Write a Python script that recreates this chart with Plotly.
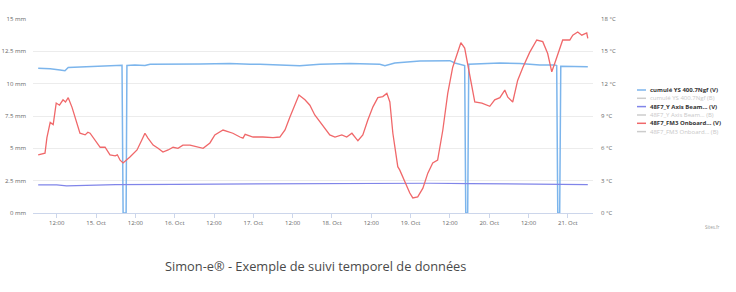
import plotly.graph_objects as go

# ---------------- data ----------------
blue_times = ["2023-10-14 06:20", "2023-10-14 10:00", "2023-10-14 13:00", "2023-10-14 14:30", "2023-10-14 15:30",
              "2023-10-14 19:05", "2023-10-15 01:15", "2023-10-15 07:20", "2023-10-15 07:55", "2023-10-15 08:15",
              "2023-10-15 09:10", "2023-10-15 09:25", "2023-10-15 11:50", "2023-10-15 14:55", "2023-10-15 16:30",
              "2023-10-16 07:45", "2023-10-16 16:50", "2023-10-16 23:00", "2023-10-17 02:00", "2023-10-17 14:10",
              "2023-10-17 20:20", "2023-10-18 05:30", "2023-10-18 14:35", "2023-10-18 16:10", "2023-10-18 19:10",
              "2023-10-19 02:50", "2023-10-19 08:55", "2023-10-19 12:00", "2023-10-19 13:30", "2023-10-19 15:55",
              "2023-10-19 16:30", "2023-10-19 16:50", "2023-10-19 17:25", "2023-10-19 17:45", "2023-10-19 21:05",
              "2023-10-20 03:15", "2023-10-20 09:20", "2023-10-20 15:25", "2023-10-20 20:00", "2023-10-20 20:35",
              "2023-10-20 20:55", "2023-10-20 21:30", "2023-10-20 21:50", "2023-10-21 02:05", "2023-10-21 06:05"]
blue_vals = [11.2, 11.15, 11.05, 11.0, 11.25,
             11.28, 11.33, 11.38, 11.42, 0.0,
             0.0, 11.4, 11.45, 11.4, 11.5,
             11.52, 11.55, 11.5, 11.5, 11.38,
             11.5, 11.55, 11.5, 11.38, 11.6,
             11.75, 11.8, 11.78, 11.6, 11.4,
             11.4, 0.0, 0.0, 11.5, 11.55,
             11.6, 11.55, 11.45, 11.45, 11.4,
             0.0, 0.0, 11.35, 11.3, 11.3]

purple_times = ["2023-10-14 06:20", "2023-10-14 12:00", "2023-10-14 15:00", "2023-10-14 20:00", "2023-10-15 06:00",
                "2023-10-16 00:00", "2023-10-17 00:00", "2023-10-18 12:00", "2023-10-19 06:00", "2023-10-19 18:00",
                "2023-10-20 12:00", "2023-10-21 06:05"]
purple_vals = [2.18, 2.17, 2.1, 2.15, 2.2,
               2.22, 2.26, 2.3, 2.3, 2.27,
               2.25, 2.2]

red_times = ["2023-10-14 06:20", "2023-10-14 08:25", "2023-10-14 09:00", "2023-10-14 10:00", "2023-10-14 10:55",
             "2023-10-14 11:50", "2023-10-14 12:50", "2023-10-14 13:55", "2023-10-14 14:40", "2023-10-14 15:30",
             "2023-10-14 16:40", "2023-10-14 18:10", "2023-10-14 19:05", "2023-10-14 20:40", "2023-10-14 21:30",
             "2023-10-14 22:10", "2023-10-14 23:40", "2023-10-15 01:15", "2023-10-15 02:45", "2023-10-15 03:30",
             "2023-10-15 04:15", "2023-10-15 05:50", "2023-10-15 06:30", "2023-10-15 07:20", "2023-10-15 08:15",
             "2023-10-15 10:20", "2023-10-15 12:30", "2023-10-15 14:00", "2023-10-15 14:55", "2023-10-15 15:50",
             "2023-10-15 17:25", "2023-10-15 18:55", "2023-10-15 20:25", "2023-10-15 22:00", "2023-10-15 23:30",
             "2023-10-16 01:00", "2023-10-16 02:30", "2023-10-16 04:40", "2023-10-16 06:50", "2023-10-16 08:40",
             "2023-10-16 10:45", "2023-10-16 12:15", "2023-10-16 14:45", "2023-10-16 17:45", "2023-10-16 19:55",
             "2023-10-16 20:50", "2023-10-16 21:30", "2023-10-16 23:55", "2023-10-17 02:55", "2023-10-17 06:00",
             "2023-10-17 08:05", "2023-10-17 09:40", "2023-10-17 11:10", "2023-10-17 12:40", "2023-10-17 13:55",
             "2023-10-17 15:45", "2023-10-17 17:15", "2023-10-17 18:45", "2023-10-17 20:20", "2023-10-17 21:50",
             "2023-10-17 23:20", "2023-10-18 00:55", "2023-10-18 03:00", "2023-10-18 04:30", "2023-10-18 06:05",
             "2023-10-18 07:55", "2023-10-18 09:25", "2023-10-18 10:55", "2023-10-18 12:30", "2023-10-18 14:00",
             "2023-10-18 15:30", "2023-10-18 16:45", "2023-10-18 17:40", "2023-10-18 18:35", "2023-10-18 20:05",
             "2023-10-18 20:40", "2023-10-18 22:15", "2023-10-18 23:45", "2023-10-19 00:40", "2023-10-19 02:10",
             "2023-10-19 03:45", "2023-10-19 05:15", "2023-10-19 06:45", "2023-10-19 08:15", "2023-10-19 09:50",
             "2023-10-19 11:20", "2023-10-19 12:50", "2023-10-19 14:25", "2023-10-19 15:20", "2023-10-19 16:30",
             "2023-10-19 17:25", "2023-10-19 18:40", "2023-10-19 19:35", "2023-10-19 21:45", "2023-10-20 00:10",
             "2023-10-20 01:40", "2023-10-20 03:15", "2023-10-20 04:45", "2023-10-20 05:40", "2023-10-20 07:10",
             "2023-10-20 08:40", "2023-10-20 10:15", "2023-10-20 12:20", "2023-10-20 14:30", "2023-10-20 16:20",
             "2023-10-20 17:50", "2023-10-20 19:05", "2023-10-20 20:00", "2023-10-20 20:55", "2023-10-20 22:25",
             "2023-10-21 00:35", "2023-10-21 01:30", "2023-10-21 03:00", "2023-10-21 04:15", "2023-10-21 05:45",
             "2023-10-21 06:05"]
red_vals = [5.4, 5.55, 7.0, 8.4, 8.2,
            10.2, 10.0, 10.5, 10.3, 10.7,
            9.8, 8.35, 7.4, 7.25, 7.5,
            7.4, 6.8, 6.1, 6.1, 5.8,
            5.4, 5.3, 5.4, 4.9, 4.65,
            5.2, 5.85, 6.8, 7.4, 6.95,
            6.3, 6.0, 5.65, 5.85, 6.1,
            6.0, 6.3, 6.3, 6.1, 6.0,
            6.5, 7.25, 7.7, 7.4, 7.05,
            6.95, 7.3, 7.05, 7.05, 7.0,
            7.05, 7.7, 8.9, 10.0, 10.95,
            10.5, 10.0, 9.1, 8.45, 7.9,
            7.25, 7.05, 7.25, 7.05, 7.4,
            6.7, 7.25, 8.6, 9.85, 10.7,
            10.8, 11.1, 10.3, 7.4, 4.3,
            4.0, 2.8, 1.85, 1.4, 1.5,
            2.3, 3.7, 4.65, 4.9, 7.7,
            11.1, 13.5, 15.1, 15.8, 15.3,
            13.9, 11.7, 10.3, 10.2, 9.9,
            10.5, 10.7, 11.4, 10.75, 10.3,
            12.3, 13.5, 14.9, 16.05, 15.9,
            14.8, 13.1, 13.9, 14.8, 16.05,
            16.05, 16.5, 16.8, 16.5, 16.7,
            16.2]

x_tickvals = ["2023-10-14 12:00", "2023-10-15 00:00", "2023-10-15 12:00", "2023-10-16 00:00", "2023-10-16 12:00",
              "2023-10-17 00:00", "2023-10-17 12:00", "2023-10-18 00:00", "2023-10-18 12:00", "2023-10-19 00:00",
              "2023-10-19 12:00", "2023-10-20 00:00", "2023-10-20 12:00", "2023-10-21 00:00"]
x_ticktext = ["12:00", "15. Oct", "12:00", "16. Oct", "12:00", "17. Oct", "12:00", "18. Oct", "12:00", "19. Oct",
              "12:00", "20. Oct", "12:00", "21. Oct"]
mm_ticks = [0, 2.5, 5, 7.5, 10, 12.5, 15]
mm_labels = ["0 mm", "2.5 mm", "5 mm", "7.5 mm", "10 mm", "12.5 mm", "15 mm"]
c_ticks = [0, 3, 6, 9, 12, 15, 18]
c_labels = ["0 °C", "3 °C", "6 °C", "9 °C", "12 °C", "15 °C", "18 °C"]

legend_names = ["cumulé YS 400.7Ngf (V)", "cumulé YS 400.7Ngf (B)", "48F7_Y Axis Beam... (V)",
                "48F7_Y Axis Beam... (B)", "48F7_FM3 Onboard... (V)", "48F7_FM3 Onboard... (B)"]
legend_active = [True, False, True, False, True, False]

caption = "Simon-e® - Exemple de suivi temporel de données"
watermark = "Sites.fr"

# ---------------- styles ----------------
BLUE = "#7cb5ec"
PURPLE = "#8085e9"
RED = "#f0686a"
legend_colors = [BLUE, "#cccccc", PURPLE, "#cccccc", RED, "#cccccc"]

W, H = 736, 292
L, R, T, B = 33, 143, 19, 79
PW, PH = W - L - R, H - T - B


def px_x(px):
    return (px - L) / PW


def px_y(py):
    return (H - B - py) / PH


fig = go.Figure()
fig.add_trace(go.Scatter(x=blue_times, y=blue_vals, mode="lines", line=dict(color=BLUE, width=1.5),
                         yaxis="y", name=legend_names[0]))
fig.add_trace(go.Scatter(x=purple_times, y=purple_vals, mode="lines", line=dict(color=PURPLE, width=1.2),
                         yaxis="y", name=legend_names[2]))
fig.add_trace(go.Scatter(x=red_times, y=red_vals, mode="lines", line=dict(color=RED, width=1.3),
                         yaxis="y2", name=legend_names[4]))

tick_font = dict(family="Open Sans", size=6, color="#666666")

fig.update_layout(
    width=W, height=H,
    margin=dict(l=L, r=R, t=T, b=B, pad=0),
    paper_bgcolor="white", plot_bgcolor="white",
    showlegend=False,
    xaxis=dict(type="date", range=["2023-10-14 04:45", "2023-10-21 07:40"],
               tickmode="array", tickvals=x_tickvals, ticktext=x_ticktext,
               showgrid=False, zeroline=False, showline=True, linecolor="#ccd6eb", linewidth=1,
               ticks="outside", ticklen=4, tickcolor="#ccd6eb", tickfont=tick_font, automargin=False),
    yaxis=dict(range=[0, 15], tickmode="array", tickvals=mm_ticks, ticktext=mm_labels,
               showgrid=True, gridcolor="#ececec", gridwidth=1, zeroline=False, showline=False,
               ticks="", tickfont=tick_font, ticklabelstandoff=6, automargin=False),
    yaxis2=dict(range=[0, 18], overlaying="y", side="right", tickmode="array", tickvals=c_ticks,
                ticktext=c_labels, showgrid=False, zeroline=False, showline=False, ticks="",
                tickfont=tick_font, ticklabelstandoff=7, automargin=False),
)

# manual legend (Highcharts-like compact legend)
legend_rows = [90, 98.3, 106.6, 115, 123.3, 131.6]
shapes = []
annotations = []
for name, active, col, row in zip(legend_names, legend_active, legend_colors, legend_rows):
    shapes.append(dict(type="line", xref="paper", yref="paper",
                       x0=px_x(637), x1=px_x(646), y0=px_y(row), y1=px_y(row),
                       line=dict(color=col, width=1.5)))
    annotations.append(dict(xref="paper", yref="paper", x=px_x(648), y=px_y(row),
                            xanchor="left", yanchor="middle", showarrow=False,
                            text=("<b>%s</b>" % name) if active else name,
                            font=dict(family="Open Sans", size=6,
                                      color="#333333" if active else "#c8c8c8")))

annotations.append(dict(xref="paper", yref="paper", x=px_x(315), y=px_y(266),
                        xanchor="center", yanchor="middle", showarrow=False, text=caption,
                        font=dict(family="Open Sans", size=12.8, color="#4a4a4a")))
annotations.append(dict(xref="paper", yref="paper", x=px_x(722), y=px_y(227),
                        xanchor="right", yanchor="middle", showarrow=False, text=watermark,
                        font=dict(family="Open Sans", size=4.5, color="#999999")))

fig.update_layout(shapes=shapes, annotations=annotations)

fig.write_html("out.html")
